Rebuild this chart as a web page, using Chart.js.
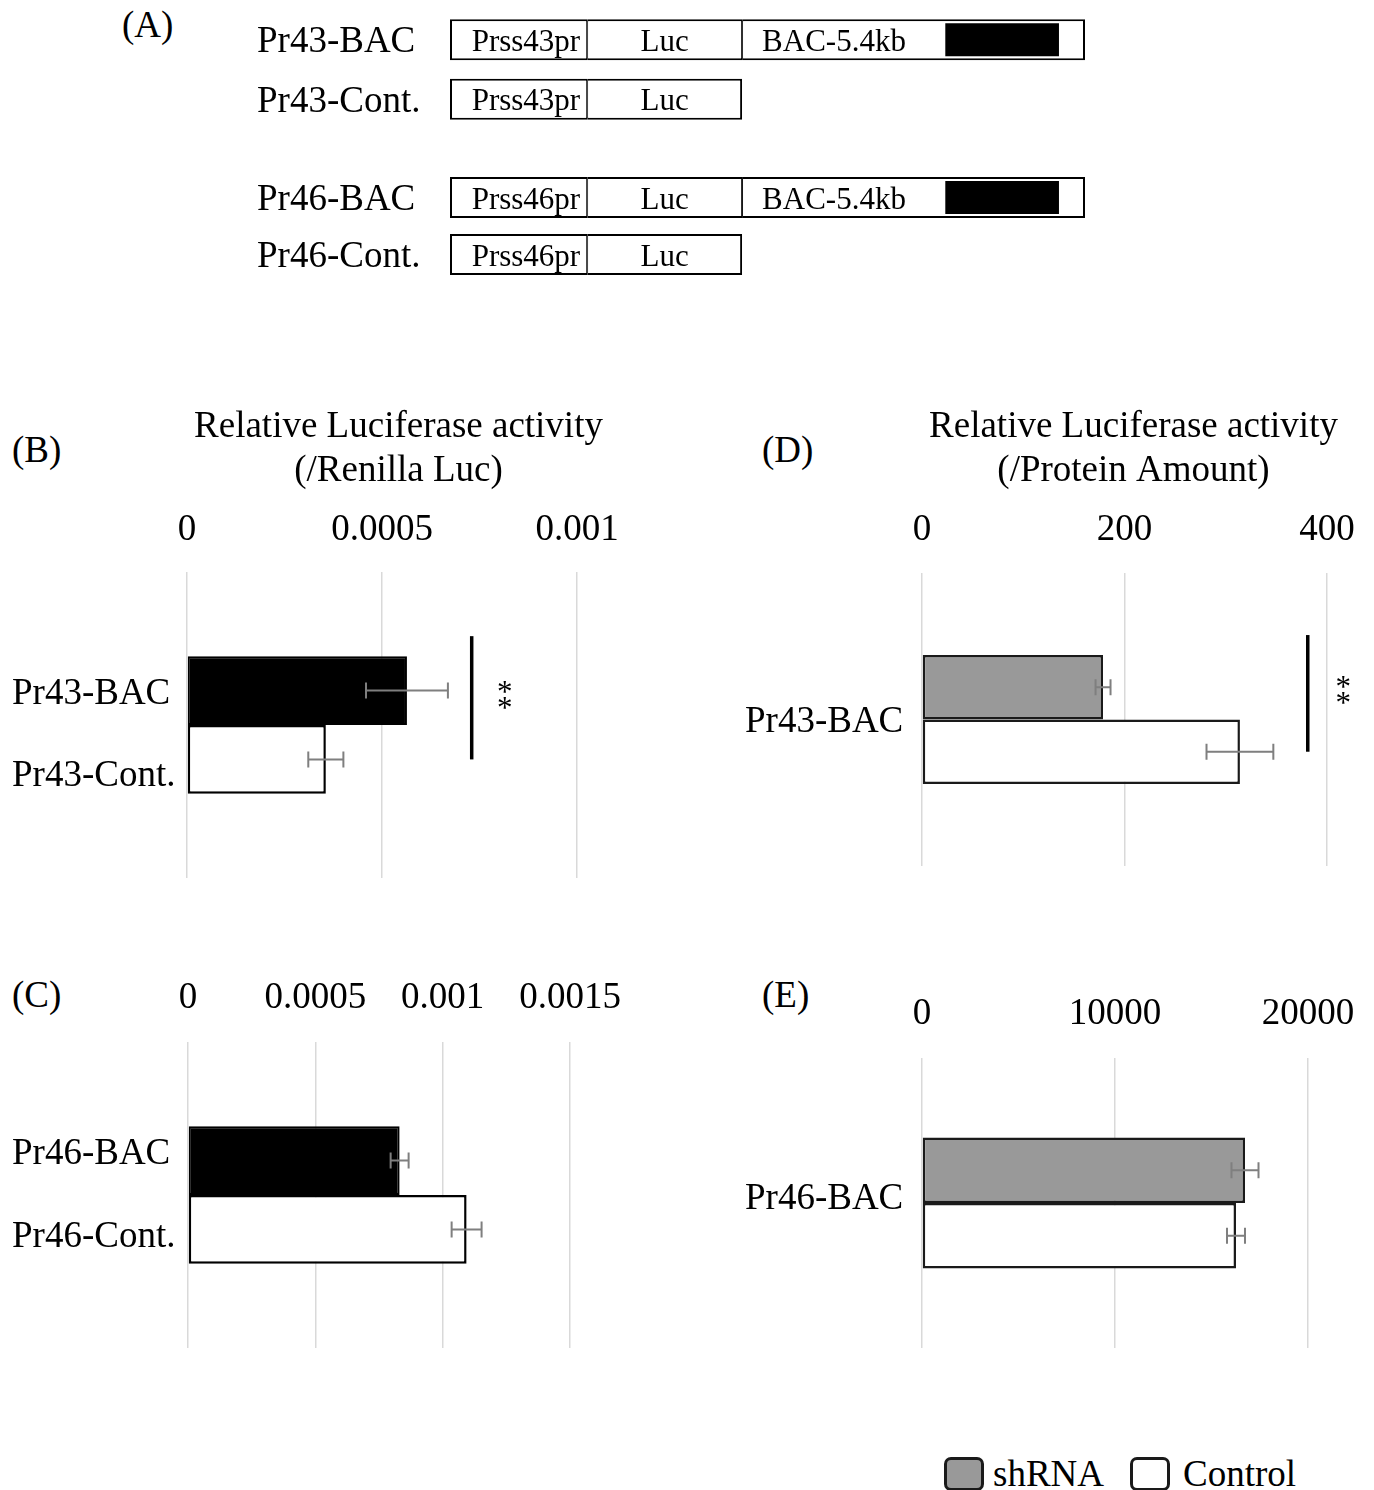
<!DOCTYPE html>
<html>
<head>
<meta charset="utf-8">
<script src="https://cdn.jsdelivr.net/npm/chart.js@4.4.1/dist/chart.umd.min.js"></script>
<style>
html, body { margin:0; padding:0; background:#fff; overflow:hidden; width:1374px; height:1490px; }
body { position:relative; font-family:'Liberation Serif','Times New Roman',serif; color:#000; }
canvas { position:absolute; }
.lbl { position:absolute; font-size:37px; line-height:50px; height:50px; white-space:nowrap; }
.lgbox { position:absolute; width:40px; height:34px; box-sizing:border-box; border:3px solid #1a1a1a; border-radius:7px; }
</style>
</head>
<body>
<div class="lbl" style="left:122px;top:0px">(A)</div>
<div class="lbl" style="left:12px;top:425px">(B)</div>
<div class="lbl" style="left:762px;top:425px">(D)</div>
<div class="lbl" style="left:12px;top:970px">(C)</div>
<div class="lbl" style="left:762px;top:970px">(E)</div>

<canvas id="cA1" width="840" height="140" style="left:257px;top:0px"></canvas>
<canvas id="cA2" width="840" height="150" style="left:257px;top:140px"></canvas>
<canvas id="cB" width="773" height="500" style="left:12px;top:400px"></canvas>
<canvas id="cD" width="777" height="490" style="left:745px;top:400px"></canvas>
<canvas id="cC" width="640" height="420" style="left:12px;top:940px"></canvas>
<canvas id="cE" width="660" height="400" style="left:745px;top:960px"></canvas>

<div class="lgbox" style="left:944px;top:1457px;background:#999999"></div>
<div class="lbl" style="left:993px;top:1449px">shRNA</div>
<div class="lgbox" style="left:1130px;top:1457px;background:#ffffff"></div>
<div class="lbl" style="left:1183px;top:1449px">Control</div>

<script>
// ---------- DATA ----------
// (A) construct diagrams (x in diagram units; BAC-5.4kb segment spans 5.4 units)
const rows43 = ['Pr43-BAC', 'Pr43-Cont.'];
const rows46 = ['Pr46-BAC', 'Pr46-Cont.'];
const promoterSeg = [[0, 2.16], [0, 2.16]];
const lucSeg = [[2.16, 4.60], [2.16, 4.60]];
const bacSeg = [[4.60, 10.0], null];
const insertSeg = [[7.80, 9.59], null];
const diagramMax = 10;
const promoter43Text = ['Prss43pr', 'Prss43pr'];
const promoter46Text = ['Prss46pr', 'Prss46pr'];
const lucText = ['Luc', 'Luc'];
const bacText = ['BAC-5.4kb', ''];

// (B) Pr43, relative luciferase activity (/Renilla Luc)
const labelsB = ['Pr43-BAC', 'Pr43-Cont.'];
const valuesB = [0.000564, 0.000356];
const errorsB = [0.000105, 0.000045];
const ticksB = [0, 0.0005, 0.001];

// (C) Pr46, relative luciferase activity (/Renilla Luc)
const labelsC = ['Pr46-BAC', 'Pr46-Cont.'];
const valuesC = [0.000831, 0.001094];
const errorsC = [0.0000353, 0.0000588];
const ticksC = [0, 0.0005, 0.001, 0.0015];

// (D) Pr43-BAC, (/Protein Amount)
const categoryD = 'Pr43-BAC';
const shRNA_D = [178.8];
const shRNA_D_err = [7.4];
const control_D = [314];
const control_D_err = [33];
const ticksD = [0, 200, 400];

// (E) Pr46-BAC, (/Protein Amount)
const categoryE = 'Pr46-BAC';
const shRNA_E = [16736];
const shRNA_E_err = [700];
const control_E = [16269];
const control_E_err = [466];
const ticksE = [0, 10000, 20000];

const seriesNames = ['shRNA', 'Control'];

// ---------- SETUP ----------
const SERIF = "'Liberation Serif','Times New Roman',serif";
Chart.defaults.font.family = SERIF;
Chart.defaults.font.weight = 'normal';
Chart.defaults.color = '#000';

const fmt = v => String(parseFloat(Number(v).toPrecision(8)));

const errorBarPlugin = {
  id: 'errorBars',
  afterDatasetsDraw(chart) {
    const ctx = chart.ctx, xs = chart.scales.x;
    chart.data.datasets.forEach((ds, i) => {
      if (!ds.errors) return;
      const meta = chart.getDatasetMeta(i);
      meta.data.forEach((bar, j) => {
        const v = ds.data[j], e = ds.errors[j];
        const x1 = xs.getPixelForValue(v - e), x2 = xs.getPixelForValue(v + e);
        const y = bar.y;
        ctx.save();
        ctx.strokeStyle = '#7f7f7f';
        ctx.lineWidth = 2;
        ctx.beginPath();
        ctx.moveTo(x1, y); ctx.lineTo(x2, y);
        ctx.moveTo(x1, y - 8); ctx.lineTo(x1, y + 8);
        ctx.moveTo(x2, y - 8); ctx.lineTo(x2, y + 8);
        ctx.stroke();
        ctx.restore();
      });
    });
  }
};

const sigPlugin = {
  id: 'sig',
  afterDatasetsDraw(chart, args, opts) {
    if (!opts || opts.at == null) return;
    const ctx = chart.ctx, xs = chart.scales.x;
    const b0 = chart.getDatasetMeta(0).data[0];
    const b1 = chart.getDatasetMeta(1).data[0];
    const x = xs.getPixelForValue(opts.at);
    const yTop = b0.y - b0.height / 2 - opts.overshoot;
    const yBot = b1.y;
    ctx.save();
    ctx.strokeStyle = '#000';
    ctx.lineWidth = 3.5;
    ctx.beginPath(); ctx.moveTo(x, yTop); ctx.lineTo(x, yBot); ctx.stroke();
    ctx.fillStyle = '#000';
    ctx.font = '31px ' + SERIF;
    ctx.textAlign = 'center';
    ctx.textBaseline = 'alphabetic';
    const m = ctx.measureText('*');
    const off = (m.actualBoundingBoxAscent - m.actualBoundingBoxDescent) / 2;
    const sx = xs.getPixelForValue(opts.starAt);
    const ym = (yTop + yBot) / 2 - 3;
    ctx.fillText('*', sx, ym - 8 + off);
    ctx.fillText('*', sx, ym + 8 + off);
    ctx.restore();
  }
};

const segLabelPlugin = {
  id: 'segLabels',
  afterDatasetsDraw(chart) {
    const ctx = chart.ctx;
    chart.data.datasets.forEach((ds, i) => {
      if (!ds.segText) return;
      const meta = chart.getDatasetMeta(i);
      meta.data.forEach((bar, j) => {
        if (ds.data[j] == null || !ds.segText[j]) return;
        const left = Math.min(bar.x, bar.base), right = Math.max(bar.x, bar.base);
        let x, align;
        if (ds.segAlign === 'start') { x = left + ds.segPad; align = 'left'; }
        else if (ds.segAlign === 'end') { x = right - ds.segPad; align = 'right'; }
        else { x = (left + right) / 2; align = 'center'; }
        ctx.save();
        ctx.fillStyle = '#000';
        ctx.font = '31px ' + SERIF;
        ctx.textAlign = align;
        ctx.textBaseline = 'middle';
        ctx.fillText(ds.segText[j], x, bar.y + 3);
        ctx.restore();
      });
    });
  }
};

function diagramChart(id, rows, promoterText, pad, boxPct, insPct) {
  const edge = { top: 2, bottom: 2 };
  return new Chart(document.getElementById(id), {
    type: 'bar',
    data: {
      labels: rows,
      datasets: [
        { label: 'insert', data: insertSeg, backgroundColor: '#000', borderWidth: 0, barPercentage: insPct },
        { label: 'promoter', data: promoterSeg, segText: promoterText, segAlign: 'end', segPad: 7,
          backgroundColor: '#fff', borderColor: '#000',
          borderWidth: Object.assign({ left: 2, right: 1 }, edge), barPercentage: boxPct },
        { label: 'luc', data: lucSeg, segText: lucText, segAlign: 'center', segPad: 0,
          backgroundColor: '#fff', borderColor: '#000',
          borderWidth: c => Object.assign({ left: 1, right: bacSeg[c.dataIndex] ? 1 : 2 }, edge), barPercentage: boxPct },
        { label: 'bac', data: bacSeg, segText: bacText, segAlign: 'start', segPad: 20,
          backgroundColor: '#fff', borderColor: '#000',
          borderWidth: Object.assign({ left: 1, right: 2 }, edge), barPercentage: boxPct }
      ]
    },
    options: {
      indexAxis: 'y', responsive: false, animation: false, devicePixelRatio: 1,
      layout: { padding: pad },
      datasets: { bar: { grouped: false, categoryPercentage: 1, borderSkipped: false } },
      plugins: { legend: { display: false }, tooltip: { enabled: false }, title: { display: false } },
      scales: {
        x: { type: 'linear', display: false, min: 0, max: diagramMax },
        y: { type: 'category',
             ticks: { color: '#000', font: { size: 37, lineHeight: '44px' }, crossAlign: 'far', padding: 0, labelOffset: 3 },
             grid: { display: false }, border: { display: false },
             afterFit: s => { s.width = 193; s.paddingTop = 0; s.paddingBottom = 0; } }
      }
    },
    plugins: [segLabelPlugin]
  });
}

diagramChart('cA1', rows43, promoter43Text, { top: 10, bottom: 11, right: 12, left: 0 }, 41 / 59.5, 33 / 59.5);
diagramChart('cA2', rows46, promoter46Text, { top: 29, bottom: 7, right: 12, left: 0 }, 41 / 57, 33 / 57);

// o.gridEnd: pixel (from canvas left) where the last labelled gridline sits;
// the plot area runs on to the canvas edge, so the scale range is stretched accordingly.
function panelChart(id, o) {
  const canvas = document.getElementById(id);
  const lastTick = o.ticks[o.ticks.length - 1];
  const rangeMax = lastTick * (canvas.width - o.yWidth) / (o.gridEnd - o.yWidth);
  return new Chart(canvas, {
    type: 'bar',
    data: { labels: [o.yLabel], datasets: o.datasets },
    options: {
      indexAxis: 'y', responsive: false, animation: false, devicePixelRatio: 1,
      layout: { padding: o.pad },
      datasets: { bar: { categoryPercentage: o.cp, barPercentage: 1, borderSkipped: false } },
      plugins: {
        legend: { display: false }, tooltip: { enabled: false },
        title: o.title ? { display: true, text: o.title, color: '#000',
                           font: { size: 37, lineHeight: '44px', weight: 'normal' },
                           padding: o.titlePad } : { display: false },
        sig: o.sig || {}
      },
      scales: {
        x: { type: 'linear', position: 'top', min: 0, max: rangeMax,
             afterBuildTicks: s => { s.ticks = o.ticks.map(v => ({ value: v })); },
             ticks: { autoSkip: false, maxRotation: 0, color: '#000', font: { size: 37, lineHeight: '44px' },
                      padding: o.tickPad, callback: v => fmt(v) },
             grid: { color: '#d9d9d9', lineWidth: 1.5, drawTicks: false },
             border: { display: false } },
        y: { type: 'category',
             ticks: { color: '#000', font: { size: 37, lineHeight: o.labelLH }, crossAlign: 'far',
                      labelOffset: o.labelOffset, padding: 0 },
             grid: { display: false }, border: { display: false },
             afterFit: s => { s.width = o.yWidth; s.paddingTop = 0; s.paddingBottom = 0; } }
      }
    },
    plugins: [errorBarPlugin, sigPlugin]
  });
}

panelChart('cB', {
  yLabel: labelsB, ticks: ticksB, gridEnd: 565,
  title: ['Relative Luciferase activity', '(/Renilla Luc)'], titlePad: { top: 5, bottom: -5 },
  pad: { top: 0, right: 0, bottom: 22, left: 0 }, tickPad: 20, yWidth: 175, cp: 0.45,
  labelLH: '82px', labelOffset: 10,
  sig: { at: 0.00073, starAt: 0.000815, overshoot: 20 },
  datasets: [
    { label: labelsB[0], data: [valuesB[0]], errors: [errorsB[0]], backgroundColor: '#000', borderColor: '#000', borderWidth: 2 },
    { label: labelsB[1], data: [valuesB[1]], errors: [errorsB[1]], backgroundColor: '#fff', borderColor: '#000', borderWidth: 2.5 }
  ]
});

panelChart('cD', {
  yLabel: categoryD, ticks: ticksD, gridEnd: 582,
  title: ['Relative Luciferase activity', '(/Protein Amount)'], titlePad: { top: 5, bottom: -6 },
  pad: { top: 0, right: 0, bottom: 24, left: 0 }, tickPad: 21, yWidth: 177, cp: 0.44,
  labelLH: '44px', labelOffset: 3,
  sig: { at: 381, starAt: 416, overshoot: 20 },
  datasets: [
    { label: seriesNames[0], data: shRNA_D, errors: shRNA_D_err, backgroundColor: '#999999', borderColor: '#1a1a1a', borderWidth: 2.5 },
    { label: seriesNames[1], data: control_D, errors: control_D_err, backgroundColor: '#fff', borderColor: '#1a1a1a', borderWidth: 2.5 }
  ]
});

panelChart('cC', {
  yLabel: labelsC, ticks: ticksC, gridEnd: 558, title: null,
  pad: { top: 14, right: 0, bottom: 12, left: 0 }, tickPad: 22, yWidth: 176, cp: 0.45,
  labelLH: '83px', labelOffset: 1,
  datasets: [
    { label: labelsC[0], data: [valuesC[0]], errors: [errorsC[0]], backgroundColor: '#000', borderColor: '#000', borderWidth: 2 },
    { label: labelsC[1], data: [valuesC[1]], errors: [errorsC[1]], backgroundColor: '#fff', borderColor: '#000', borderWidth: 2.5 }
  ]
});

panelChart('cE', {
  yLabel: categoryE, ticks: ticksE, gridEnd: 563, title: null,
  pad: { top: 10, right: 0, bottom: 12, left: 0 }, tickPad: 22, yWidth: 177, cp: 0.452,
  labelLH: '44px', labelOffset: -4,
  datasets: [
    { label: seriesNames[0], data: shRNA_E, errors: shRNA_E_err, backgroundColor: '#999999', borderColor: '#1a1a1a', borderWidth: 2.5 },
    { label: seriesNames[1], data: control_E, errors: control_E_err, backgroundColor: '#fff', borderColor: '#1a1a1a', borderWidth: 2.5 }
  ]
});
</script>
</body>
</html>
